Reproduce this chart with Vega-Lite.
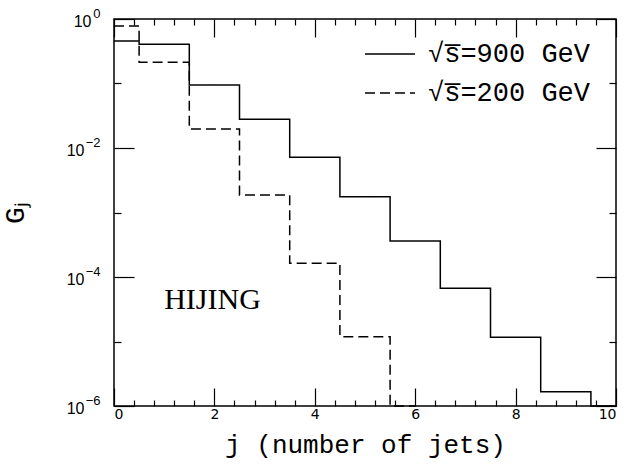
{
  "$schema": "https://vega.github.io/schema/vega-lite/v6.json",
  "width": 502,
  "height": 387,
  "autosize": "none",
  "padding": {"left": 114, "top": 19, "right": 10, "bottom": 62},
  "background": "white",
  "config": {
    "view": {"stroke": "black", "strokeWidth": 1.5},
    "axis": {"grid": false, "domain": false, "tickColor": "black", "tickWidth": 1.2, "labelColor": "black", "titleColor": "black"}
  },
  "datasets": {
    "hist": [
      {"series": "900", "j": 0, "G": 0.456},
      {"series": "900", "j": 1, "G": 0.405},
      {"series": "900", "j": 2, "G": 0.095},
      {"series": "900", "j": 3, "G": 0.0279},
      {"series": "900", "j": 4, "G": 0.00718},
      {"series": "900", "j": 5, "G": 0.00176},
      {"series": "900", "j": 6, "G": 0.00036},
      {"series": "900", "j": 7, "G": 0.000067},
      {"series": "900", "j": 8, "G": 0.0000116},
      {"series": "900", "j": 9, "G": 0.00000167},
      {"series": "900", "j": 10, "G": 0.000001},
      {"series": "200", "j": 0, "G": 0.78},
      {"series": "200", "j": 1, "G": 0.213},
      {"series": "200", "j": 2, "G": 0.0197},
      {"series": "200", "j": 3, "G": 0.00187},
      {"series": "200", "j": 4, "G": 0.000163},
      {"series": "200", "j": 5, "G": 0.0000119},
      {"series": "200", "j": 6, "G": 0.000001}
    ],
    "note": [{"x": 1.0, "G": 0.000044, "label": "HIJING"}]
  },
  "layer": [
    {
      "data": {"name": "hist"},
      "mark": {"type": "line", "interpolate": "step", "color": "black", "strokeWidth": 1.5},
      "encoding": {
        "x": {
          "field": "j", "type": "quantitative",
          "scale": {"domain": [0, 10], "nice": false, "zero": false},
          "axis": {"orient": "bottom", "values": [0, 2, 4, 6, 8, 10], "tickSize": -18, "labelPadding": 19, "labelFont": "DejaVu Sans", "labelFontSize": 14, "title": "j (number of jets)", "titleFont": "Liberation Mono", "titleFontSize": 26, "titleFontWeight": "normal", "titlePadding": 10}
        },
        "y": {
          "field": "G", "type": "quantitative",
          "scale": {"type": "log", "domain": [0.000001, 1], "nice": false},
          "axis": {"orient": "left", "values": [1, 0.01, 0.0001, 0.000001], "tickSize": -20, "labelPadding": {"condition": {"test": "datum.value >= 0.5", "value": 43}, "value": 50}, "labelOffset": 2, "labelFont": "Liberation Sans", "labelFontSize": 16, "labelExpr": "'10'", "title": "Gⱼ", "titleFont": "Liberation Mono", "titleFontSize": 28, "titleFontWeight": "normal", "titlePadding": 37}
        },
        "strokeDash": {
          "field": "series", "type": "nominal",
          "scale": {"domain": ["900", "200"], "range": [[1, 0], [10, 5]]},
          "legend": {"orient": "none", "legendX": 250, "legendY": 9, "title": null, "symbolType": "stroke", "symbolSize": 2500, "symbolStrokeWidth": 1.5, "symbolStrokeColor": "black", "labelFont": "Liberation Mono", "labelFontSize": 27, "labelColor": "black", "labelOffset": 12, "labelLimit": 400, "rowPadding": 0, "labelExpr": "datum.value == '900' ? '√s̅=900 GeV' : '√s̅=200 GeV'"}
        }
      }
    },
    {
      "data": {"name": "note"},
      "mark": {"type": "text", "align": "left", "baseline": "middle", "font": "Liberation Serif", "fontSize": 30, "color": "black"},
      "encoding": {
        "x": {"field": "x", "type": "quantitative", "axis": {"orient": "bottom", "values": [0.4, 0.8, 1.2, 1.6, 2.4, 2.8, 3.2, 3.6, 4.4, 4.8, 5.2, 5.6, 6.4, 6.8, 7.2, 7.6, 8.4, 8.8, 9.2, 9.6], "tickSize": -6, "labels": false, "title": null}},
        "y": {"field": "G", "type": "quantitative", "axis": {"orient": "left", "values": [0.1, 0.001, 0.00001], "tickSize": -7, "labels": false, "title": null}},
        "text": {"field": "label"}
      }
    },
    {
      "data": {"name": "hist"},
      "mark": {"type": "line", "strokeOpacity": 0},
      "encoding": {
        "x": {"field": "j", "type": "quantitative", "axis": {"orient": "top", "values": [0, 2, 4, 6, 8, 10], "tickSize": -18, "labels": false, "title": null}},
        "y": {"field": "G", "type": "quantitative", "axis": {"orient": "right", "values": [1, 0.01, 0.0001, 0.000001], "tickSize": -20, "labels": false, "title": null}}
      }
    },
    {
      "data": {"name": "hist"},
      "mark": {"type": "line", "strokeOpacity": 0},
      "encoding": {
        "x": {"field": "j", "type": "quantitative", "axis": {"orient": "top", "values": [0.4, 0.8, 1.2, 1.6, 2.4, 2.8, 3.2, 3.6, 4.4, 4.8, 5.2, 5.6, 6.4, 6.8, 7.2, 7.6, 8.4, 8.8, 9.2, 9.6], "tickSize": -6, "labels": false, "title": null}},
        "y": {"field": "G", "type": "quantitative", "axis": {"orient": "right", "values": [0.1, 0.001, 0.00001], "tickSize": -7, "labels": false, "title": null}}
      }
    },
    {
      "data": {"name": "hist"},
      "mark": {"type": "line", "strokeOpacity": 0},
      "encoding": {
        "x": {"field": "j", "type": "quantitative", "axis": null},
        "y": {"field": "G", "type": "quantitative", "axis": {"orient": "left", "values": [1, 0.01, 0.0001, 0.000001], "ticks": false, "labelPadding": 14, "labelOffset": -6, "labelFont": "Liberation Sans", "labelFontSize": 13, "labelExpr": "datum.value >= 0.5 ? '0' : datum.value >= 0.005 ? '−2' : datum.value >= 0.00005 ? '−4' : '−6'", "title": null}}
      }
    }
  ],
  "resolve": {"axis": {"x": "independent", "y": "independent"}}
}
